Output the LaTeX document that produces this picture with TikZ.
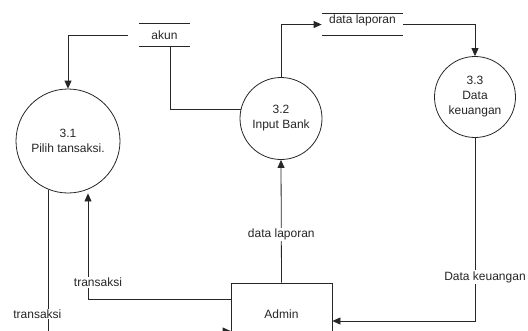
\documentclass[tikz,border=0pt]{standalone}
\usepackage{fontspec}
\setmainfont{Liberation Sans}
\usetikzlibrary{arrows.meta, positioning, calc}

\tikzset{
  proses/.style={circle, draw, align=center, inner sep=0pt},
  simpan/.style={inner sep=0pt},
  panah/.style={-{Triangle[length=8pt,width=7pt]}},
  lbl/.style={fill=white, inner sep=1pt},
}

\begin{document}
\begin{tikzpicture}[x=1pt, y=-1pt, font=\fontsize{12}{15}\selectfont, line width=0.8pt, color=black!85]
\useasboundingbox (0,0) rectangle (528,330);

\node[proses, minimum size=104pt] (Proses1) at (68,141) {3.1\\Pilih tansaksi.};
\node[proses, minimum size=82pt] (Proses2) at (281,118.5) {3.2\\Input Bank};
\node[proses, minimum size=81pt] (Proses3) at (475,97) {3.3\\Data\\keuangan};

\node[draw, minimum width=101pt, minimum height=62pt] (Admin) at (281.5,314) {Admin};

\node[simpan, minimum width=51pt, minimum height=22pt] (Akun) at (164.5,35) {akun};
\node[simpan, minimum width=81pt, text height=9pt, text depth=12pt] (Laporan) at (362.5,24.5) {data laporan};
\foreach \s in {Akun, Laporan} {
  \draw (\s.north west) -- (\s.north east);
  \draw (\s.south west) -- (\s.south east);
}

\draw[panah, shorten <=11pt] (Akun.west) -| (Proses1.north);
\draw ([xshift=5.5pt]Akun.south) |- (Proses2.167);
\draw[panah] (Proses2.north) |- (Laporan.west);
\draw[panah] (Laporan.east) -| (Proses3.north);
\draw[panah] (Proses3.south) |- ([yshift=-7pt]Admin.east) node[lbl, pos=0.38, xshift=10pt] {Data keuangan};
\draw[panah] (Admin.north) -- (Proses2.south) node[lbl, pos=0.39] {data laporan};
\draw[panah] ([yshift=15pt]Admin.west) -| ($(Proses1.south)+(20,0)$) node[lbl, pos=0.58, xshift=10pt] {transaksi};
\draw[panah] (Proses1.248.6) |- ([yshift=-17pt]Admin.west) node[lbl, pos=0.44, xshift=-11pt] {transaksi};
\end{tikzpicture}
\end{document}
